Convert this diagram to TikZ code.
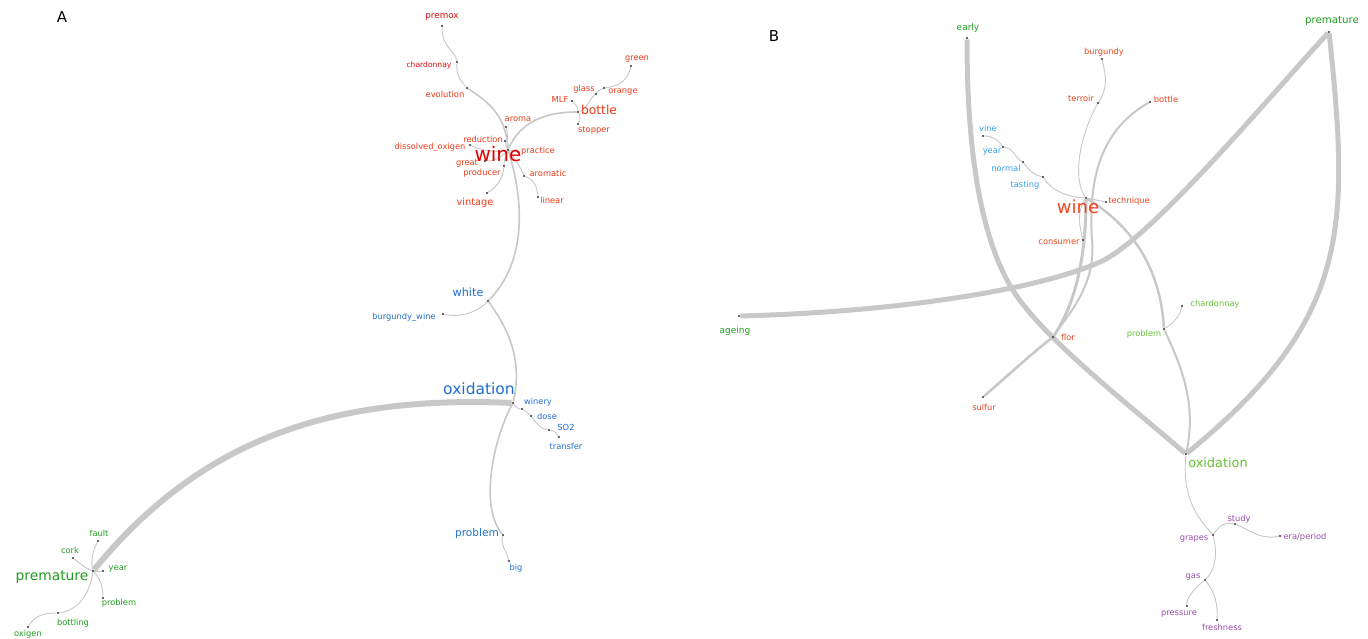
\documentclass[tikz,border=0pt]{standalone}
\usepackage{fontspec}
\setmainfont{DejaVu Sans}
\usetikzlibrary{backgrounds}
\definecolor{edgegray}{HTML}{C8C8C8}
\definecolor{redA}{HTML}{F03A17}
\definecolor{deepredA}{HTML}{E00A0A}
\definecolor{blueA}{HTML}{1F6FD1}
\definecolor{greenA}{HTML}{1E9E1E}
\definecolor{orangeB}{HTML}{F0441E}
\definecolor{skyB}{HTML}{33A0EE}
\definecolor{limeB}{HTML}{66C433}
\definecolor{purpleB}{HTML}{9B4FB0}
\tikzset{
  dot/.style={circle, fill=black!80, inner sep=0pt, minimum size=2.4pt},
  edge/.style={draw=edgegray, line width=0.9pt},
  edgemid/.style={draw=edgegray, line width=1.6pt},
  edgewide/.style={draw=edgegray, line width=2.6pt},
  edgethick/.style={draw=edgegray, line width=5pt},
  lbl/.style={inner sep=0pt, font=\fontsize{8.3}{9}\selectfont},
  panel/.style={inner sep=0pt, font=\fontsize{15}{16}\selectfont},
}
\begin{document}
\begin{tikzpicture}[x=1pt, y=-1pt]
  \useasboundingbox (0,0) rectangle (1368,638);
  %%%%% PANEL A %%%%%
  \node[panel] (labA) at (62,17) {A};
  \node[dot] (premoxA) at (442,26) {};
  \node[dot] (chardA) at (457,62) {};
  \node[dot] (evolA) at (467,88) {};
  \node[dot] (wineA) at (508,150) {};
  \node[dot] (aromaA) at (506,127) {};
  \node[dot] (reducA) at (505,141) {};
  \node[dot] (dissA) at (470,145) {};
  \node[dot] (practA) at (518,152) {};
  \node[dot] (greatA) at (485,161) {};
  \node[dot] (producA) at (504,166) {};
  \node[dot] (aromatA) at (524,176) {};
  \node[dot] (linearA) at (538,197) {};
  \node[dot] (vintA) at (487,193) {};
  \node[dot] (bottleA) at (578,112) {};
  \node[dot] (mlfA) at (572,101) {};
  \node[dot] (glassA) at (596,94) {};
  \node[dot] (orangeA) at (604,88) {};
  \node[dot] (greenA) at (631,66) {};
  \node[dot] (stopA) at (578,124) {};
  \node[dot] (whiteA) at (488,301) {};
  \node[dot] (burgA) at (443,314) {};
  \node[dot] (oxA) at (513,403) {};
  \node[dot] (wineryA) at (522,409) {};
  \node[dot] (doseA) at (531,416) {};
  \node[dot] (sotwoA) at (549,430) {};
  \node[dot] (transA) at (559,437) {};
  \node[dot] (probA) at (503,535) {};
  \node[dot] (bigA) at (509,561) {};
  \node[dot] (premA) at (93,571) {};
  \node[dot] (faultA) at (98,541) {};
  \node[dot] (corkA) at (73,558) {};
  \node[dot] (yearA) at (103,571) {};
  \node[dot] (probtwoA) at (103,598) {};
  \node[dot] (bottlingA) at (58,613) {};
  \node[dot] (oxigenA) at (28,627) {};

  \node[lbl, text=deepredA, font=\fontsize{8.8}{10}\selectfont] (premoxA-l) at (442,17) {premox};
  \node[lbl, text=deepredA, font=\fontsize{7.6}{9}\selectfont] (chardA-l) at (429,65) {chardonnay};
  \node[lbl, text=redA] (evolA-l) at (445,94) {evolution};
  \node[lbl, text=redA] (aromaA-l) at (518,119) {aroma};
  \node[lbl, text=redA] (reducA-l) at (483,139) {reduction};
  \node[lbl, text=redA] (dissA-l) at (430,147) {dissolved\_oxigen};
  \node[lbl, text=red!90!black, font=\fontsize{20}{22}\selectfont] (wineA-l) at (498,154) {wine};
  \node[lbl, text=redA] (practA-l) at (538,151) {practice};
  \node[lbl, text=redA] (greatA-l) at (467,163) {great};
  \node[lbl, text=redA] (producA-l) at (482,173) {producer};
  \node[lbl, text=redA] (aromatA-l) at (548,173) {aromatic};
  \node[lbl, text=redA] (linearA-l) at (552,200) {linear};
  \node[lbl, text=redA, font=\fontsize{9.8}{11}\selectfont] (vintA-l) at (475,203) {vintage};
  \node[lbl, text=redA, font=\fontsize{12.3}{14}\selectfont] (bottleA-l) at (599,110) {bottle};
  \node[lbl, text=redA] (mlfA-l) at (560,99) {MLF};
  \node[lbl, text=redA] (glassA-l) at (584,89) {glass};
  \node[lbl, text=redA] (orangeA-l) at (623,92) {orange};
  \node[lbl, text=redA] (greenA-l) at (637,59) {green};
  \node[lbl, text=redA] (stopA-l) at (594,130) {stopper};
  \node[lbl, text=blueA, font=\fontsize{11.3}{13}\selectfont] (whiteA-l) at (468,292) {white};
  \node[lbl, text=blueA] (burgA-l) at (404,317) {burgundy\_wine};
  \node[lbl, text=blueA, font=\fontsize{15.5}{17}\selectfont] (oxA-l) at (479,389) {oxidation};
  \node[lbl, text=blueA] (wineryA-l) at (538,402) {winery};
  \node[lbl, text=blueA] (doseA-l) at (547,416) {dose};
  \node[lbl, text=blueA] (sotwoA-l) at (566,427) {SO2};
  \node[lbl, text=blueA] (transA-l) at (566,446) {transfer};
  \node[lbl, text=blueA, font=\fontsize{10.6}{12}\selectfont] (probA-l) at (477,534) {problem};
  \node[lbl, text=blueA] (bigA-l) at (516,568) {big};
  \node[lbl, text=greenA, font=\fontsize{13.8}{15}\selectfont] (premA-l) at (52,577) {premature};
  \node[lbl, text=greenA] (faultA-l) at (99,533) {fault};
  \node[lbl, text=greenA] (corkA-l) at (70,550) {cork};
  \node[lbl, text=greenA] (yearA-l) at (118,569) {year};
  \node[lbl, text=greenA] (probtwoA-l) at (119,603) {problem};
  \node[lbl, text=greenA] (bottlingA-l) at (73,623) {bottling};
  \node[lbl, text=greenA] (oxigenA-l) at (28,634) {oxigen};

  %%%%% PANEL B %%%%%
  \node[panel] (labB) at (774,36) {B};
  \node[dot] (earlyB) at (967,38) {};
  \node[dot] (premB) at (1329,32) {};
  \node[dot] (ageB) at (739,316) {};
  \node[dot] (oxB) at (1186,454) {};
  \node[dot] (wineB) at (1086,198) {};
  \node[dot] (burgB) at (1102,59) {};
  \node[dot] (terrB) at (1098,103) {};
  \node[dot] (bottleB) at (1150,102) {};
  \node[dot] (vineB) at (983,136) {};
  \node[dot] (yearB) at (1003,147) {};
  \node[dot] (normB) at (1023,162) {};
  \node[dot] (tastB) at (1043,177) {};
  \node[dot] (techB) at (1106,202) {};
  \node[dot] (consB) at (1083,240) {};
  \node[dot] (florB) at (1053,337) {};
  \node[dot] (sulfB) at (983,397) {};
  \node[dot] (probB) at (1164,329) {};
  \node[dot] (chardB) at (1182,306) {};
  \node[dot] (grapB) at (1213,535) {};
  \node[dot] (studyB) at (1235,524) {};
  \node[dot] (eraB) at (1280,536) {};
  \node[dot] (gasB) at (1205,580) {};
  \node[dot] (pressB) at (1187,606) {};
  \node[dot] (freshB) at (1217,620) {};
  \coordinate (earlybend) at (1008,282);
  \coordinate (agebend) at (1100,262);
  \coordinate (bottlebend) at (1092,240);

  \node[lbl, text=greenA, font=\fontsize{9}{10}\selectfont] (earlyB-l) at (968,28) {early};
  \node[lbl, text=greenA, font=\fontsize{10.2}{11}\selectfont] (premB-l) at (1332,21) {premature};
  \node[lbl, text=greenA, font=\fontsize{9}{10}\selectfont] (ageB-l) at (735,331) {ageing};
  \node[lbl, text=limeB, font=\fontsize{12.9}{14}\selectfont] (oxB-l) at (1218,463) {oxidation};
  \node[lbl, text=orangeB, font=\fontsize{18}{20}\selectfont] (wineB-l) at (1078,207) {wine};
  \node[lbl, text=orangeB] (burgB-l) at (1104,52) {burgundy};
  \node[lbl, text=orangeB] (terrB-l) at (1081,98) {terroir};
  \node[lbl, text=orangeB] (bottleB-l) at (1166,99) {bottle};
  \node[lbl, text=skyB] (vineB-l) at (988,128) {vine};
  \node[lbl, text=skyB] (yearB-l) at (992,152) {year};
  \node[lbl, text=skyB] (normB-l) at (1006,168) {normal};
  \node[lbl, text=skyB] (tastB-l) at (1025,185) {tasting};
  \node[lbl, text=orangeB] (techB-l) at (1129,201) {technique};
  \node[lbl, text=orangeB] (consB-l) at (1059,242) {consumer};
  \node[lbl, text=orangeB] (florB-l) at (1068,337) {flor};
  \node[lbl, text=orangeB] (sulfB-l) at (984,407) {sulfur};
  \node[lbl, text=limeB] (probB-l) at (1144,334) {problem};
  \node[lbl, text=limeB] (chardB-l) at (1215,304) {chardonnay};
  \node[lbl, text=purpleB] (studyB-l) at (1239,519) {study};
  \node[lbl, text=purpleB] (grapB-l) at (1194,539) {grapes};
  \node[lbl, text=purpleB] (eraB-l) at (1305,537) {era/period};
  \node[lbl, text=purpleB] (gasB-l) at (1193,577) {gas};
  \node[lbl, text=purpleB] (pressB-l) at (1179,614) {pressure};
  \node[lbl, text=purpleB] (freshB-l) at (1222,627) {freshness};

  \begin{scope}[on background layer]
    \fill[white] (0,0) rectangle (1368,638);
    % panel A connectors
    \draw[edge] (premoxA) .. controls (442,48) and (455,50) .. (chardA);
    \draw[edge] (chardA) .. controls (456,75) and (460,80) .. (evolA);
    \draw[edgemid] (evolA) .. controls (492,104) and (506,118) .. (wineA);
    \draw[edgemid] (wineA) .. controls (524,200) and (527,262) .. (whiteA);
    \draw[edgemid] (wineA) .. controls (520,122) and (545,112) .. (bottleA);
    \draw[edge] (bottleA) .. controls (578,107) and (575,104) .. (mlfA);
    \draw[edge] (bottleA) .. controls (588,108) and (590,98) .. (glassA);
    \draw[edge] (glassA) .. controls (599,90) and (601,89) .. (orangeA);
    \draw[edge] (orangeA) .. controls (622,86) and (628,78) .. (greenA);
    \draw[edge] (bottleA) .. controls (581,116) and (580,120) .. (stopA);
    \draw[edge] (wineA) .. controls (507,140) and (508,133) .. (aromaA);
    \draw[edge] (wineA) .. controls (506,146) and (506,144) .. (reducA);
    \draw[edge] (dissA) .. controls (480,150) and (495,153) .. (wineA);
    \draw[edge] (greatA) .. controls (495,161) and (502,157) .. (wineA);
    \draw[edge] (wineA) -- (practA);
    \draw[edge] (wineA) .. controls (506,156) and (504,160) .. (producA);
    \draw[edge] (producA) .. controls (503,180) and (495,188) .. (vintA);
    \draw[edge] (wineA) .. controls (516,160) and (522,170) .. (aromatA);
    \draw[edge] (aromatA) .. controls (535,180) and (537,188) .. (linearA);
    \draw[edge] (whiteA) .. controls (478,312) and (460,318) .. (burgA);
    \draw[edgemid] (whiteA) .. controls (508,328) and (523,360) .. (oxA);
    \draw[edge] (oxA) .. controls (516,407) and (519,409) .. (wineryA);
    \draw[edge] (wineryA) .. controls (526,411) and (528,413) .. (doseA);
    \draw[edge] (doseA) .. controls (537,424) and (542,430) .. (sotwoA);
    \draw[edge] (sotwoA) .. controls (555,431) and (557,434) .. (transA);
    \draw[edgemid] (oxA) .. controls (495,435) and (478,505) .. (probA);
    \draw[edge] (probA) .. controls (500,545) and (507,552) .. (bigA);
    \draw[edgethick, line width=6pt] (oxA) .. controls (330,395) and (200,440) .. (premA);
    \draw[edge] (premA) .. controls (90,560) and (94,548) .. (faultA);
    \draw[edge] (premA) .. controls (85,568) and (78,562) .. (corkA);
    \draw[edge] (premA) -- (yearA);
    \draw[edge] (premA) .. controls (100,578) and (103,588) .. (probtwoA);
    \draw[edge] (premA) .. controls (90,592) and (80,610) .. (bottlingA);
    \draw[edge] (bottlingA) .. controls (45,613) and (35,615) .. (oxigenA);
    % panel B connectors
    \draw[edgethick] (earlyB) .. controls (967,150) and (980,230) .. (earlybend)
      .. controls (1035,332) and (1120,397) .. (oxB);
    \draw[edgethick] (premB) .. controls (1269,97) and (1150,240) .. (agebend)
      .. controls (1040,289) and (900,312) .. (ageB);
    \draw[edgethick] (premB) .. controls (1350,230) and (1350,320) .. (oxB);
    \draw[edgewide, line width=3pt] (wineB) .. controls (1086,250) and (1078,300) .. (florB);
    \draw[edgewide] (florB) .. controls (1030,355) and (1005,378) .. (sulfB);
    \draw[edgemid, line width=2pt] (bottleB) .. controls (1100,130) and (1088,180) .. (bottlebend)
      .. controls (1096,285) and (1070,312) .. (florB);
    \draw[edge] (terrB) .. controls (1110,85) and (1104,70) .. (burgB);
    \draw[edge] (terrB) .. controls (1080,135) and (1072,178) .. (wineB);
    \draw[edge] (wineB) .. controls (1076,212) and (1080,228) .. (consB);
    \draw[edge] (wineB) -- (techB);
    \draw[edge] (tastB) .. controls (1052,192) and (1070,197) .. (wineB);
    \draw[edge] (normB) .. controls (1030,172) and (1035,175) .. (tastB);
    \draw[edge] (yearB) .. controls (1013,148) and (1015,158) .. (normB);
    \draw[edge] (vineB) .. controls (993,136) and (998,140) .. (yearB);
    \draw[edgewide, line width=2.4pt] (wineB) .. controls (1130,225) and (1160,265) .. (probB);
    \draw[edgemid, line width=2pt] (probB) .. controls (1178,360) and (1198,400) .. (oxB);
    \draw[edge] (probB) .. controls (1175,322) and (1180,315) .. (chardB);
    \draw[edge] (oxB) .. controls (1182,495) and (1195,515) .. (grapB);
    \draw[edge] (grapB) .. controls (1220,525) and (1225,522) .. (studyB);
    \draw[edge] (studyB) .. controls (1250,530) and (1260,540) .. (eraB);
    \draw[edge] (grapB) .. controls (1218,555) and (1215,570) .. (gasB);
    \draw[edge] (gasB) .. controls (1192,590) and (1186,600) .. (pressB);
    \draw[edge] (gasB) .. controls (1215,592) and (1218,605) .. (freshB);
  \end{scope}
\end{tikzpicture}
\end{document}
